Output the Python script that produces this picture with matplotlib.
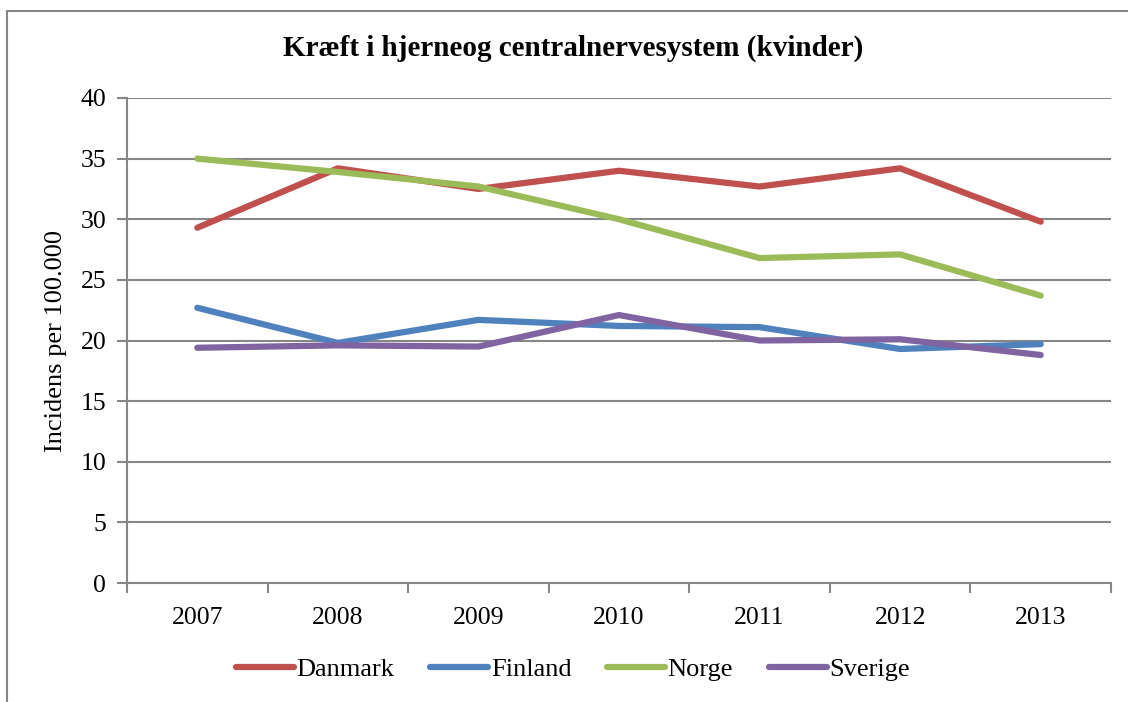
import matplotlib.pyplot as plt
from matplotlib.patches import Rectangle

years = ['2007', '2008', '2009', '2010', '2011', '2012', '2013']
danmark = [29.3, 34.2, 32.5, 34.0, 32.7, 34.2, 29.8]
finland = [22.7, 19.8, 21.7, 21.2, 21.1, 19.3, 19.7]
norge = [35.0, 33.9, 32.7, 30.0, 26.8, 27.1, 23.7]
sverige = [19.4, 19.6, 19.5, 22.1, 20.0, 20.1, 18.8]

series = [
    ('Danmark', danmark, '#C0504D'),
    ('Finland', finland, '#4F81BD'),
    ('Norge', norge, '#9BBB59'),
    ('Sverige', sverige, '#8064A2'),
]

plt.rcParams['font.family'] = ['Liberation Serif', 'DejaVu Serif']
grid_col = '#868686'

fig = plt.figure(figsize=(11.28, 7.02), dpi=100)
# outer chart border (cut off at right and bottom in the reference)
fig.patches.append(Rectangle((7 / 1128, -0.05), 1.2, 1 - 11 / 702 + 0.05,
                             transform=fig.transFigure, fill=False,
                             edgecolor=grid_col, linewidth=1.5))

ax = fig.add_axes([127 / 1128, 1 - 583 / 702, (1111 - 127) / 1128, (583 - 98) / 702])

x = list(range(len(years)))
for name, vals, col in series:
    ax.plot(x, vals, color=col, linewidth=4.5, solid_capstyle='round',
            solid_joinstyle='round', label=name)

ax.set_xlim(-0.5, len(years) - 0.5)
ax.set_ylim(0, 40)
ax.set_yticks(range(0, 41, 5))
ax.set_xticks(x)
ax.set_xticklabels(years)
ax.set_xticks([i - 0.5 for i in range(len(years) + 1)], minor=True)
ax.tick_params(axis='x', which='major', length=0, labelsize=18.5, pad=17)
ax.tick_params(axis='x', which='minor', length=7, width=1.5, color=grid_col, direction='out')
ax.tick_params(axis='y', length=7, width=1.5, color=grid_col, labelsize=18.5, pad=8)

ax.grid(axis='y', color=grid_col, linewidth=1.5)
ax.set_axisbelow(True)
for s in ['top', 'right']:
    ax.spines[s].set_visible(False)
for s in ['left', 'bottom']:
    ax.spines[s].set_color(grid_col)
    ax.spines[s].set_linewidth(1.5)

ax.set_ylabel('Incidens per 100.000', fontsize=19, labelpad=10)
fig.text(0.5085, 1 - 48 / 702, 'Kræft i hjerneog centralnervesystem (kvinder)',
         ha='center', va='center', fontsize=21, fontweight='bold')

fig.legend(loc='center', bbox_to_anchor=(0.508, 1 - 669 / 702), ncol=4,
           frameon=False, fontsize=19, handlelength=2.2, handletextpad=0.1,
           columnspacing=1.35)

plt.savefig('out.png', dpi=100)
